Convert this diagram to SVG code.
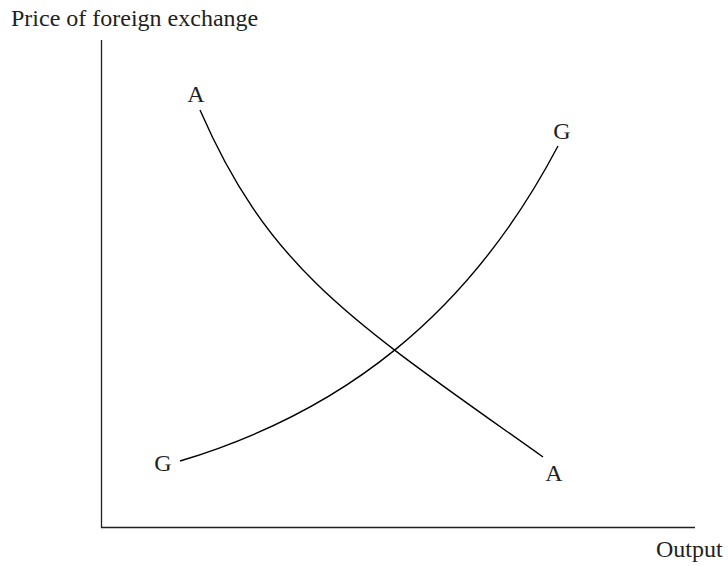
<svg xmlns="http://www.w3.org/2000/svg" width="728" height="566" viewBox="0 0 728 566">
<style>
.ax{fill:none;stroke:#231f20;stroke-width:1.3}
.cv{fill:none;stroke:#000;stroke-width:1.4}
text{font-family:"Liberation Serif","Times New Roman",serif;font-size:24px;fill:#231f20}
.lb{text-anchor:middle}
</style>
<rect width="728" height="566" fill="#fff"/>
<g id="axes">
<path class="ax" d="M101.5,40 V527.5 H695"/>
<text id="ylabel" x="11" y="26">Price of foreign exchange</text>
<text id="xlabel" x="656" y="557">Output</text>
</g>
<g id="connectors">
<path id="curveA" class="cv" d="M200,110 C270,271 353,322 543,457"/>
<path id="curveG" class="cv" d="M180,461 C340,413 468,317 558,146"/>
</g>
<g id="A-top"><text class="lb" x="196" y="102">A</text></g>
<g id="A-bottom"><text class="lb" x="554" y="481">A</text></g>
<g id="G-top"><text class="lb" x="562" y="139">G</text></g>
<g id="G-bottom"><text class="lb" x="163" y="471">G</text></g>
</svg>
